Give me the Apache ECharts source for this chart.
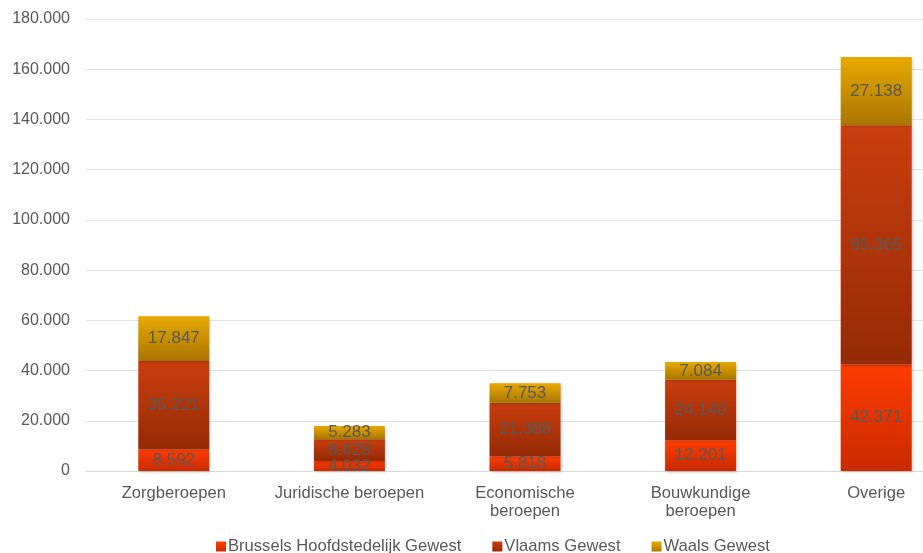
<!DOCTYPE html>
<html><head><meta charset="utf-8">
<script src="https://cdn.jsdelivr.net/npm/echarts@6/dist/echarts.min.js"></script>
<style>html,body{margin:0;padding:0;background:#fff;overflow:hidden;width:923px;height:553px}#c{width:965px;height:553px}</style>
</head><body><div id="c"></div>
<script>
const categories = ['Zorgberoepen', 'Juridische beroepen', 'Economische\nberoepen', 'Bouwkundige\nberoepen', 'Overige'];
const seriesNames = ['Brussels Hoofdstedelijk Gewest', 'Vlaams Gewest', 'Waals Gewest'];
const brussels = [8592, 4032, 5818, 12201, 42371];
const vlaams = [35221, 8628, 21388, 24140, 95365];
const waals = [17847, 5283, 7753, 7084, 27138];
const yTicks = { min: 0, max: 180000, interval: 20000 };

function fmt(v){ return String(v).replace(/\B(?=(\d{3})+(?!\d))/g, '.'); }
function grad(a, b){ return new echarts.graphic.LinearGradient(0,0,0,1,[{offset:0,color:a},{offset:1,color:b}]); }
const styles = [
  { c: grad('#FF3C00', '#C82A00'), legend: grad('#FF3C00', '#D02C00') },
  { c: grad('#CA3E0E', '#952A06'), legend: grad('#CA3E0E', '#9A2C06') },
  { c: grad('#E8AA00', '#A97500'), legend: grad('#E8AA00', '#B07A00') }
];
const datasets = [brussels, vlaams, waals];
const font = 'Liberation Sans, Arial, sans-serif';
const chart = echarts.init(document.getElementById('c'), null, {renderer:'canvas'});
chart.setOption({
  animation: false,
  textStyle: { fontFamily: font },
  grid: { left: 86, top: 19, right: 1, bottom: 82, containLabel: false },
  legend: {
    top: 533, left: 211, itemWidth: 10, itemHeight: 10, itemGap: 31,
    icon: 'rect',
    textStyle: { fontSize: 16.6, color: '#595959', fontFamily: font, padding: [0,0,0,-3] },
    data: seriesNames.map((n,i)=>({ name: n, itemStyle: { color: styles[i].legend } }))
  },
  xAxis: {
    type: 'category', data: categories,
    axisLine: { show: true, lineStyle: { color: '#d9d9d9' } },
    axisTick: { show: false },
    axisLabel: { fontSize: 16.6, color: '#595959', margin: 13, lineHeight: 18, interval: 0, fontFamily: font }
  },
  yAxis: {
    type: 'value', min: yTicks.min, max: yTicks.max, interval: yTicks.interval,
    axisLabel: { fontSize: 16, color: '#595959', margin: 16, formatter: v => fmt(v), fontFamily: font },
    splitLine: { lineStyle: { color: '#e3e3e3', width: 1 } },
    axisLine: { show: false }, axisTick: { show: false }
  },
  series: datasets.map((d,i)=>({
    name: seriesNames[i], type: 'bar', stack: 'total', barWidth: 71,
    data: d,
    itemStyle: { color: styles[i].c, shadowColor: 'rgba(0,0,0,0.25)', shadowBlur: 3, shadowOffsetX: 1, shadowOffsetY: 1 },
    label: { show: true, position: 'inside', formatter: p => fmt(p.value), fontSize: 17, color: '#595959', fontFamily: font }
  }))
});
</script></body></html>
